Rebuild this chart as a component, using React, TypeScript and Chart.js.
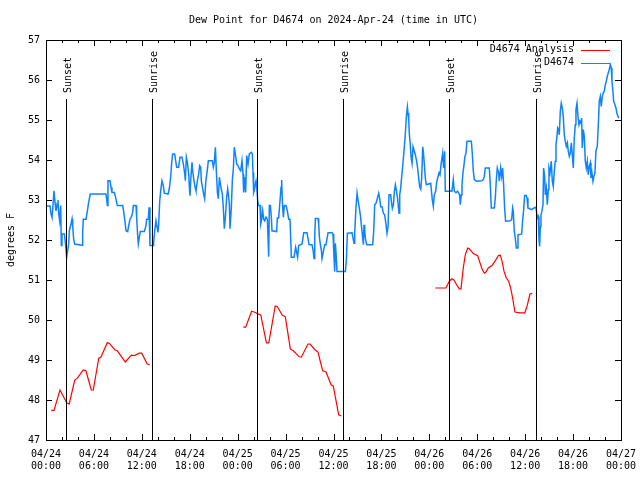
import React, { useEffect, useRef } from "react";
import { Chart, registerables } from "chart.js";

Chart.register(...registerables);

const FONT_FAMILY = "'DejaVu Sans Mono', 'Liberation Mono', monospace";
const TITLE = "Dew Point for D4674 on 2024-Apr-24 (time in UTC)";
const Y_LABEL = "degrees F";
const X_TICK_LABELS = [
  ["04/24", "00:00"], ["04/24", "06:00"], ["04/24", "12:00"], ["04/24", "18:00"],
  ["04/25", "00:00"], ["04/25", "06:00"], ["04/25", "12:00"], ["04/25", "18:00"],
  ["04/26", "00:00"], ["04/26", "06:00"], ["04/26", "12:00"], ["04/26", "18:00"],
  ["04/27", "00:00"],
];
const SERIES_NAMES = ["D4674 Analysis", "D4674"];
const SERIES_COLORS = ["#ff0000", "#0f82ff"];
const EVENT_HOURS = [2.55, 13.31, 26.46, 37.23, 50.5, 61.32];
const EVENT_LABELS = ["Sunset", "Sunrise", "Sunset", "Sunrise", "Sunset", "Sunrise"];

// hours since 2024-04-24 00:00 UTC
const ANALYSIS_HOURS = [
  0.66, 1.0, 1.75, 2.6, 2.9, 3.6, 3.9, 4.67, 5.0, 5.67, 5.92, 6.6, 6.9, 7.67, 7.92, 8.64, 8.93, 9.93, 10.68, 11.06, 11.68, 11.98, 12.68, 13.0,
  18,
  24.7, 25.0, 25.75, 26.05, 26.4, 26.9, 27.6, 27.9, 28.7, 28.97, 29.6, 29.97, 30.6, 30.97, 31.7, 31.97, 32.8, 33.06, 33.7, 34.06, 34.3, 34.65, 35.06, 35.7, 35.97, 36.65, 36.98,
  42,
  48.75, 50.08, 50.5, 50.83, 51.08, 51.42, 51.75, 51.96, 52.25, 52.5, 52.8, 53.0, 53.51, 54.05, 54.34, 54.63, 54.88, 55.09, 55.38, 55.88, 56.22, 56.64, 56.89, 57.1, 57.35, 57.64, 57.93, 58.18, 58.43, 58.72, 59.35, 59.97, 60.27, 60.6, 60.89,
];
const ANALYSIS_VALUES = [
  47.74, 47.74, 48.25, 47.93, 47.9, 48.5, 48.54, 48.75, 48.73, 48.25, 48.25, 49.04, 49.08, 49.43, 49.42, 49.25, 49.23, 48.95, 49.12, 49.11, 49.17, 49.17, 48.9, 48.88,
  null,
  49.82, 49.82, 50.22, 50.2, 50.17, 50.12, 49.43, 49.43, 50.35, 50.33, 50.12, 50.08, 49.27, 49.23, 49.08, 49.07, 49.4, 49.4, 49.25, 49.2, 49.0, 48.73, 48.7, 48.38, 48.35, 47.63, 47.6,
  null,
  50.8, 50.8, 50.97, 51.03, 51.0, 50.88, 50.78, 50.78, 51.3, 51.63, 51.8, 51.78, 51.66, 51.61, 51.43, 51.26, 51.17, 51.2, 51.3, 51.37, 51.47, 51.61, 51.62, 51.47, 51.22, 51.05, 50.97, 50.8, 50.55, 50.2, 50.18, 50.18, 50.37, 50.65, 50.67,
];

const OBS_HOURS = [
  0, 0.5, 0.63, 0.75, 0.83, 1.0, 1.13, 1.25, 1.38, 1.5, 1.59, 1.71, 1.84, 1.92, 2.0, 2.3, 2.42, 2.59, 2.71, 2.84, 2.92, 3.13, 3.26, 3.34, 3.46, 3.59, 4.51, 4.59, 4.67, 5.01, 5.18, 5.34, 5.47, 5.55, 7.51, 7.6, 7.68, 7.76, 8.01, 8.14, 8.26, 8.56, 8.76, 8.93, 9.6, 9.72, 9.85, 10.02, 10.23, 10.35, 10.52, 10.68, 10.85, 10.94, 11.27, 11.35, 11.48, 11.56, 11.69, 11.81, 12.31, 12.52, 12.6, 12.81, 12.9, 13.02, 13.4, 13.48, 13.61, 13.77, 13.9, 14.02, 14.11, 14.23, 14.36, 14.52, 14.69, 14.82, 15.28, 15.44, 15.61, 15.74, 15.86, 16.11,
  16.2, 16.36, 16.61, 16.78, 17.03, 17.2, 17.37, 17.45, 17.57, 17.7, 17.87, 17.95, 18.03, 18.12, 18.28, 18.37, 18.53, 18.66, 18.78, 18.95, 19.12, 19.24, 19.37, 19.45, 19.62, 19.74, 19.87, 20.0, 20.16, 20.33, 20.83, 20.95, 21.08, 21.21, 21.33, 21.46, 21.58, 21.71, 21.87, 22.08, 22.21, 22.33, 22.46, 22.62, 22.75, 22.83, 22.96, 23.04, 23.21, 23.33, 23.46, 23.58, 23.71, 23.88, 24.04, 24.21, 24.38, 24.54, 24.67, 24.75, 24.88, 25.0, 25.13, 25.3, 25.46, 25.71, 25.84, 25.92, 26.0, 26.13, 26.21, 26.3, 26.38, 26.51, 26.63, 26.8, 26.88, 27.01, 27.13, 27.26, 27.38, 27.55, 27.72, 27.8, 27.88, 27.97, 28.09, 28.22, 28.3, 28.88, 28.97, 29.13, 29.3, 29.43, 29.51, 29.59, 29.72, 29.85, 30.05, 30.22, 30.39, 30.55, 30.64, 30.72, 31.06, 31.26, 31.39, 31.51, 31.64, 32.06,
  32.27, 32.69, 32.81, 32.94, 33.31, 33.44, 33.56, 33.65, 33.73, 34.06, 34.15, 34.23, 34.36, 34.48, 34.56, 34.73, 34.9, 35.07, 35.19, 35.32, 35.82, 35.94, 36.03, 36.15, 36.23, 36.32, 36.44, 37.49, 37.61, 37.74, 38.32, 38.45, 38.57, 38.65, 38.82, 38.95, 39.07, 39.24, 39.36, 39.49, 39.66, 39.74, 39.82, 39.91, 39.99, 40.16, 40.91, 41.03, 41.16, 41.33, 41.49, 41.66, 41.78, 41.91, 42.08, 42.24, 42.41, 42.58, 42.7, 42.83, 42.95, 43.16, 43.25, 43.37, 43.5, 43.62, 43.75, 43.87, 44.0, 44.12, 44.21, 44.29, 44.41, 44.5, 44.62, 44.75, 44.87, 45.0, 45.12, 45.25, 45.33, 45.42, 45.5, 45.62, 45.71, 45.83, 45.96, 46.08, 46.25, 46.42, 46.54, 46.67, 46.79, 46.92, 47.04, 47.17, 47.25, 47.38, 47.5, 47.63, 48.17,
  48.37, 48.5, 48.62, 48.79, 48.91, 49.04, 49.21, 49.33, 49.46, 49.58, 49.67, 49.79, 49.92, 50.0, 50.5, 50.67, 50.83, 51.0, 51.13, 51.34, 51.54, 51.67, 51.79, 51.88, 52.0, 52.09, 52.21, 52.34, 52.46, 52.59, 52.71, 53.26, 53.38, 53.51, 53.63, 53.92, 54.55, 54.76, 54.88, 55.01, 55.51, 55.63, 55.76, 56.14, 56.26, 56.39, 56.51, 56.68, 56.76, 56.93, 57.05, 57.18, 57.3, 57.43, 57.55, 58.1, 58.31, 58.43, 58.51, 58.64, 58.76, 58.89, 59.01, 59.1, 59.56, 59.68, 59.81, 59.93, 60.14, 60.23, 60.35, 60.81, 61.1, 61.35, 61.52, 61.64, 61.73, 61.81, 61.9, 61.98, 62.1, 62.23, 62.31, 62.44, 62.52, 62.65, 62.77, 62.9, 62.98, 63.11, 63.27, 63.4, 63.52, 63.65, 63.77, 63.86, 63.98, 64.07, 64.19, 64.27, 64.4, 64.52, 64.65, 64.77, 64.9, 65.02, 65.15, 65.28, 65.4, 65.53, 65.65, 65.78, 65.9, 66.03, 66.15, 66.28, 66.36, 66.49, 66.61, 66.74, 66.86, 66.99, 67.07, 67.15, 67.28, 67.4, 67.53, 67.65, 67.78, 67.9, 68.03, 68.16, 68.24, 68.36, 68.49, 68.61, 68.74, 68.86, 69.03, 69.16, 69.28, 69.41, 69.53, 69.66, 69.78, 69.91, 70.03, 70.16, 70.28, 70.41, 70.53, 70.66, 70.78, 70.87, 70.99, 71.08, 71.24, 71.37, 71.49, 71.62, 71.74,
];
const OBS_VALUES = [
  52.85, 52.85, 52.65, 52.57, 52.73, 53.23, 52.94, 52.73, 52.86, 53.0, 52.65, 52.48, 52.86, 51.86, 52.15, 52.15, 51.94, 51.57, 51.73, 51.9, 52.23, 52.4, 52.53, 52.36, 52.03, 51.9, 51.87, 52.19, 52.52, 52.52, 52.73, 52.94, 53.07, 53.15, 53.15, 53.03, 52.86, 53.48, 53.48, 53.32, 53.19, 53.19, 53.03, 52.86, 52.86, 52.73, 52.52, 52.23, 52.21, 52.36, 52.52, 52.57, 52.69, 52.86, 52.86, 52.57, 52.11, 51.9, 52.07, 52.21, 52.21, 52.36, 52.52, 52.52, 52.82, 51.86, 51.86, 51.94, 52.23, 52.48, 52.32, 52.19, 52.4, 52.94, 53.23, 53.48, 53.36, 53.17, 53.15, 53.28, 53.57, 53.94, 54.15, 54.15,
  54.03, 53.82, 53.82, 54.07, 54.07, 53.9, 53.65, 53.48, 54.07, 53.94, 53.65, 53.32, 53.11, 53.48, 53.94, 53.73, 53.48, 53.32, 53.23, 53.48, 53.65, 53.86, 53.82, 53.48, 53.28, 53.15, 53.03, 53.44, 53.69, 53.98, 53.98, 53.82, 53.94, 54.32, 53.73, 53.19, 53.03, 53.57, 53.36, 53.15, 52.78, 52.28, 52.57, 53.07, 53.28, 53.15, 52.9, 52.28, 52.82, 53.48, 53.78, 54.32, 54.15, 53.9, 53.86, 53.78, 53.73, 53.98, 53.65, 53.19, 53.57, 53.19, 54.11, 53.9, 54.15, 54.19, 54.15, 53.69, 53.19, 53.28, 53.4, 53.48, 53.36, 52.98, 52.86, 52.86, 52.4, 52.52, 52.73, 52.52, 52.48, 52.57, 52.52, 52.07, 51.58, 52.86, 52.86, 52.57, 52.23, 52.21, 52.55, 52.55, 52.98, 53.32, 53.5, 52.98, 52.57, 52.86, 52.86, 52.73, 52.52, 52.52, 52.03, 51.57, 51.57, 51.82, 51.69, 51.57, 51.86, 51.9,
  52.18, 52.18, 52.04, 51.88, 51.88, 51.75, 51.54, 52.08, 52.54, 52.54, 52.38, 52.08, 51.88, 51.75, 51.54, 51.71, 51.88, 51.88, 52.04, 52.18, 52.18, 52.15, 51.71, 51.21, 51.92, 51.67, 51.21, 51.21, 51.5, 52.17, 52.18, 52.04, 51.92, 52.18, 52.83, 53.17, 53.0, 52.79, 52.63, 52.38, 52.04, 51.88, 52.38, 52.25, 52.04, 51.88, 51.88, 52.21, 52.88, 52.92, 53.04, 53.17, 53.04, 52.83, 52.83, 52.67, 52.63, 52.38, 52.17, 52.33, 53.13, 53.13, 52.96, 52.79, 52.88, 53.21, 53.38, 53.25, 53.08, 52.83, 52.67, 53.13, 53.29, 53.5, 53.75, 54.04, 54.33, 54.67, 55.08, 55.33, 55.17, 55.0, 54.63, 54.38, 54.08, 53.92, 54.33, 54.25, 54.13, 53.96, 53.79, 53.54, 53.33, 53.27, 53.54, 54.33, 54.21, 53.88, 53.54, 53.38, 53.42,
  53.01, 52.84, 53.13, 53.22, 53.43, 53.55, 53.68, 53.63, 53.88, 54.05, 54.17, 53.8, 54.22, 53.22, 53.22, 53.23, 53.22, 53.51, 53.22, 53.18, 53.22, 53.18, 53.13, 52.88, 53.13, 53.38, 53.68, 53.88, 54.09, 54.17, 54.47, 54.47, 54.17, 53.72, 53.51, 53.47, 53.48, 53.51, 53.59, 53.8, 53.8, 53.38, 52.8, 52.8, 53.05, 53.51, 53.8, 53.68, 53.47, 53.8, 53.59, 53.8, 53.38, 52.8, 52.47, 52.48, 52.51, 52.8, 52.72, 52.22, 52.05, 51.8, 51.8, 52.13, 52.15, 52.47, 52.76, 53.11, 53.11, 53.05, 52.8, 52.76, 52.8, 52.82, 52.55, 52.59, 52.01, 51.84, 52.34, 52.63, 52.72, 52.88, 53.8, 53.59, 53.13, 53.3, 52.88, 53.26, 53.8, 53.68, 53.97, 53.47, 53.34, 53.72, 53.97, 54.38, 54.59, 54.8, 54.76, 54.63, 55.22, 55.42, 55.3, 55.09, 54.63, 54.47, 54.34, 54.43, 54.22, 54.09, 54.17, 54.43, 54.13, 53.8, 54.55, 54.88, 55.26, 55.42, 55.09, 54.88, 54.97, 54.92, 55.05, 54.3, 54.76, 54.59, 53.97, 53.8, 53.97, 53.63, 53.84, 53.93, 53.55, 53.68, 53.47, 53.59, 53.68, 54.22, 54.34, 54.88, 55.47, 55.59, 55.34, 55.59, 55.68, 55.72, 55.88, 55.97, 56.09, 56.18, 56.26, 56.38, 56.3, 55.97, 55.72, 55.47, 55.38, 55.3, 55.17, 55.09, 55.05,
];

const X_MIN = 0;
const X_MAX = 72;
const Y_MIN = 47;
const Y_MAX = 57;

const font = (size = 10, lineHeight = 1.2) => ({ family: FONT_FAMILY, size, lineHeight, weight: "normal" as const });

const gnuplotFrame = {
  id: "gnuplotFrame",
  afterDatasetsDraw(chart: any) {
    const { ctx, chartArea, scales } = chart;
    const { left, right, top, bottom } = chartArea;
    const xs = scales.x;
    const ys = scales.y;
    ctx.save();
    ctx.strokeStyle = "#000";
    ctx.fillStyle = "#000";
    ctx.lineWidth = 1;
    ctx.font = `10px ${FONT_FAMILY}`;

    // sunrise / sunset markers
    EVENT_HOURS.forEach((h, i) => {
      const px = Math.round(xs.getPixelForValue(h)) + 0.5;
      ctx.beginPath();
      ctx.moveTo(px, 99);
      ctx.lineTo(px, bottom);
      ctx.stroke();
      ctx.save();
      ctx.translate(px + 4.5, 93);
      ctx.rotate(-Math.PI / 2);
      ctx.textAlign = "left";
      ctx.textBaseline = "alphabetic";
      ctx.fillText(EVENT_LABELS[i], 0, 0);
      ctx.restore();
    });

    // border
    ctx.strokeRect(left + 0.5, top + 0.5, right - left, bottom - top);

    // inward ticks
    ctx.beginPath();
    for (let h = X_MIN; h <= X_MAX; h += 2) {
      const px = Math.round(xs.getPixelForValue(h)) + 0.5;
      const len = h % 6 === 0 ? 6 : 3;
      ctx.moveTo(px, bottom);
      ctx.lineTo(px, bottom - len);
      ctx.moveTo(px, top);
      ctx.lineTo(px, top + len);
    }
    for (let v = Y_MIN; v <= Y_MAX; v += 1) {
      const py = Math.round(ys.getPixelForValue(v)) + 0.5;
      ctx.moveTo(left, py);
      ctx.lineTo(left + 6, py);
      ctx.moveTo(right, py);
      ctx.lineTo(right - 6, py);
    }
    ctx.stroke();

    // legend
    SERIES_NAMES.forEach((name, i) => {
      const ly = 49.5 + i * 13;
      ctx.textAlign = "right";
      ctx.textBaseline = "middle";
      ctx.fillStyle = "#000";
      ctx.fillText(name, 574, ly);
      ctx.strokeStyle = SERIES_COLORS[i];
      ctx.beginPath();
      ctx.moveTo(581, Math.round(ly) + 0.5);
      ctx.lineTo(610, Math.round(ly) + 0.5);
      ctx.stroke();
    });
    ctx.restore();
  },
};

export default function App() {
  const canvasRef = useRef<HTMLCanvasElement | null>(null);

  useEffect(() => {
    const canvas = canvasRef.current;
    if (!canvas) return;
    const analysis = ANALYSIS_HOURS.map((h, i) => ({ x: h, y: ANALYSIS_VALUES[i] }));
    const obs = OBS_HOURS.map((h, i) => ({ x: h, y: OBS_VALUES[i] }));
    const chart = new Chart(canvas, {
      type: "line",
      data: {
        datasets: [
          {
            label: SERIES_NAMES[0],
            data: analysis as any,
            borderColor: SERIES_COLORS[0],
            borderWidth: 1.2,
            pointRadius: 0,
            spanGaps: false,
            tension: 0,
            fill: false,
          },
          {
            label: SERIES_NAMES[1],
            data: obs as any,
            borderColor: SERIES_COLORS[1],
            borderWidth: 1.5,
            pointRadius: 0,
            tension: 0,
            fill: false,
          },
        ],
      },
      options: {
        animation: false,
        responsive: false,
        devicePixelRatio: 1,
        layout: { padding: { top: 0, right: 19, bottom: 0, left: 0 } },
        plugins: {
          legend: { display: false },
          tooltip: { enabled: false },
          title: {
            display: true,
            text: TITLE,
            color: "#000",
            font: font(10, 1.2),
            padding: { top: 14, bottom: 14 },
            fullSize: false,
          },
        },
        scales: {
          x: {
            type: "linear",
            min: X_MIN,
            max: X_MAX,
            grid: { display: false, drawTicks: false },
            border: { display: false },
            ticks: {
              stepSize: 2,
              autoSkip: false,
              maxRotation: 0,
              minRotation: 0,
              padding: 8,
              color: "#000",
              font: font(10, 1.25),
              callback: (v: any) => {
                const n = Math.round(Number(v));
                return n % 6 === 0 ? X_TICK_LABELS[n / 6] : "";
              },
            },
            afterFit: (s: any) => {
              s.height = 40;
              s.paddingLeft = 0;
              s.paddingRight = 0;
            },
          },
          y: {
            min: Y_MIN,
            max: Y_MAX,
            grid: { display: false, drawTicks: false },
            border: { display: false },
            ticks: {
              stepSize: 1,
              padding: 6,
              color: "#000",
              font: font(10, 1.2),
            },
            title: {
              display: true,
              text: Y_LABEL,
              color: "#000",
              font: font(10, 1.2),
              padding: { top: 5, bottom: 0 },
            },
            afterFit: (s: any) => {
              s.width = 46;
              s.paddingTop = 0;
              s.paddingBottom = 0;
            },
          },
        },
      },
      plugins: [gnuplotFrame],
    });
    return () => chart.destroy();
  }, []);

  return (
    <div style={{ position: "absolute", left: 0, top: 0, width: 640, height: 480, background: "#fff" }}>
      <canvas ref={canvasRef} width={640} height={480} style={{ display: "block" }} />
    </div>
  );
}
